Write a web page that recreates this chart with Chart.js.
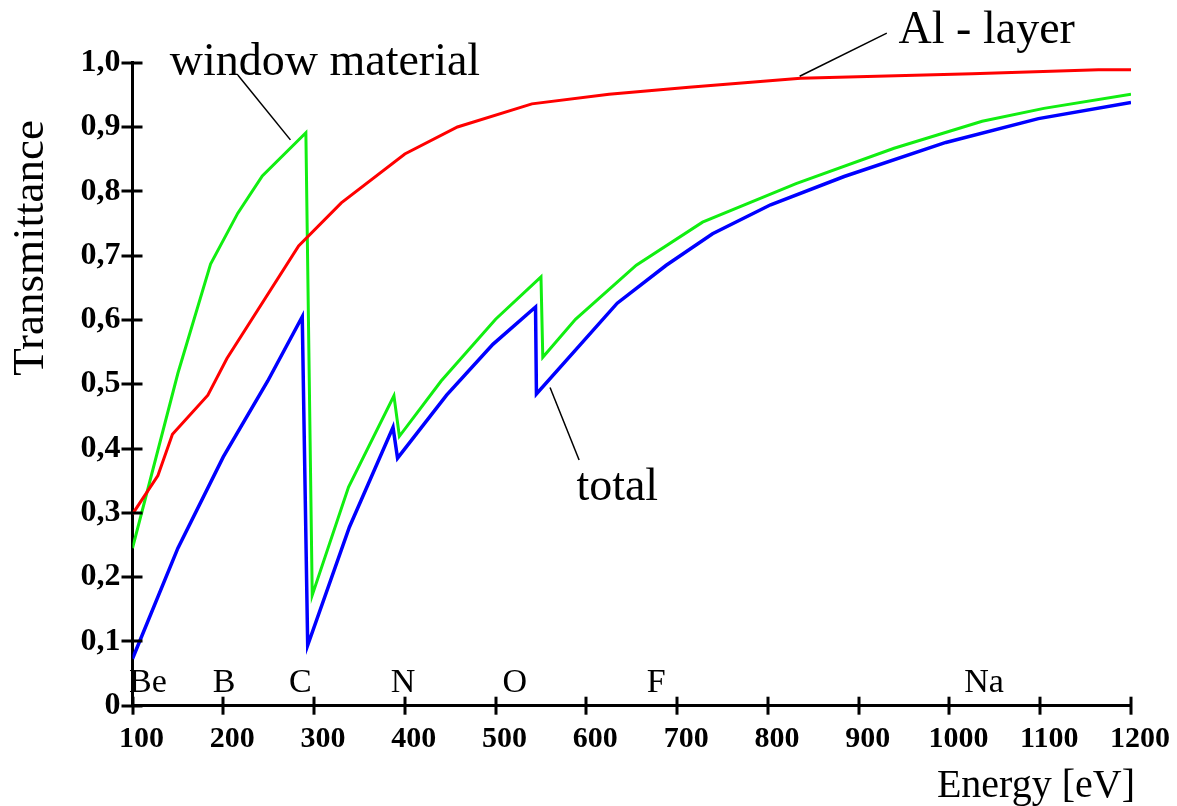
<!DOCTYPE html>
<html>
<head>
<meta charset="utf-8">
<script src="https://cdn.jsdelivr.net/npm/chart.js@4.4.1/dist/chart.umd.min.js"></script>
<style>
  html, body { margin: 0; padding: 0; background: #fff; }
  #wrap { width: 1177px; height: 806px; position: relative; }
</style>
</head>
<body>
<div id="wrap"><canvas id="chart" width="1177" height="806"></canvas></div>
<script>
/* ── Data ── */
const energyAl     = [100, 128, 144, 183, 204, 283, 330, 400, 458, 540, 625, 713, 836, 1025, 1164, 1200];
const transAl      = [0.298, 0.358, 0.422, 0.483, 0.540, 0.715, 0.782, 0.858, 0.900, 0.936, 0.951, 0.962, 0.976, 0.983, 0.989, 0.989];

const energyWindow = [100, 150, 186, 216, 243, 291, 298, 338, 388, 394, 440, 500, 550, 552, 588, 655, 728, 831, 939, 1036, 1104, 1200];
const transWindow  = [0.245, 0.517, 0.687, 0.766, 0.824, 0.891, 0.172, 0.340, 0.482, 0.419, 0.505, 0.601, 0.667, 0.542, 0.601, 0.685, 0.752, 0.812, 0.867, 0.909, 0.929, 0.951];

const energyTotal  = [100, 150, 200, 249, 287, 293, 339, 387, 392, 446, 497, 544, 545, 634, 688, 739, 803, 884, 996, 1098, 1200];
const transTotal   = [0.073, 0.245, 0.387, 0.505, 0.605, 0.094, 0.278, 0.433, 0.385, 0.483, 0.562, 0.620, 0.485, 0.626, 0.685, 0.734, 0.779, 0.823, 0.876, 0.913, 0.938];

/* tick labels */
const xTickValues = [100, 200, 300, 400, 500, 600, 700, 800, 900, 1000, 1100, 1200];
const xTickLabels = ["100", "200", "300", "400", "500", "600", "700", "800", "900", "1000", "1100", "1200"];
const yTickValues = [0, 0.1, 0.2, 0.3, 0.4, 0.5, 0.6, 0.7, 0.8, 0.9, 1.0];
const yTickLabels = ["0", "0,1", "0,2", "0,3", "0,4", "0,5", "0,6", "0,7", "0,8", "0,9", "1,0"];

/* absorption edge labels along the bottom */
const edgeNames  = ["Be", "B", "C", "N", "O", "F", "Na"];
const edgeEnergy = [117, 201, 285, 398, 521, 677, 1038];
const edgeTrans  = 0.022;

/* curve captions + leader lines [E0, T0, E1, T1] */
const captionText   = ["window material", "Al - layer", "total"];
const captionEnergy = [141, 944, 589];
const captionTrans  = [0.981, 1.030, 0.320];
const leaderLines   = [
  [216, 0.981, 274, 0.880],
  [835, 0.979, 931, 1.046],
  [560, 0.495, 592, 0.382],
];

const SERIF = "'Liberation Serif', 'Times New Roman', serif";
const INK   = "#000";

const pts = (xs, ys) => xs.map((x, i) => ({ x, y: ys[i] }));

/* ── crossing ticks, titles, captions ── */
const decor = {
  id: "decor",
  afterDraw(chart) {
    const { ctx, chartArea: a, scales: { x, y } } = chart;
    ctx.save();
    ctx.strokeStyle = INK;
    ctx.lineWidth = 3;
    yTickValues.forEach(v => {
      const py = Math.round(y.getPixelForValue(v));
      ctx.beginPath(); ctx.moveTo(a.left - 11, py); ctx.lineTo(a.left + 10, py); ctx.stroke();
    });
    xTickValues.forEach(v => {
      const px = Math.round(x.getPixelForValue(v));
      ctx.beginPath(); ctx.moveTo(px, a.bottom - 9); ctx.lineTo(px, a.bottom + 9); ctx.stroke();
    });

    /* leader lines */
    ctx.lineWidth = 1.5;
    leaderLines.forEach(l => {
      ctx.beginPath();
      ctx.moveTo(x.getPixelForValue(l[0]), y.getPixelForValue(l[1]));
      ctx.lineTo(x.getPixelForValue(l[2]), y.getPixelForValue(l[3]));
      ctx.stroke();
    });

    ctx.fillStyle = INK;
    ctx.textBaseline = "alphabetic";
    ctx.textAlign = "left";
    ctx.font = "46px " + SERIF;
    captionText.forEach((t, i) => {
      ctx.fillText(t, x.getPixelForValue(captionEnergy[i]), y.getPixelForValue(captionTrans[i]));
    });

    ctx.textAlign = "center";
    ctx.font = "34px " + SERIF;
    edgeNames.forEach((t, i) => {
      ctx.fillText(t, x.getPixelForValue(edgeEnergy[i]), y.getPixelForValue(edgeTrans));
    });

    /* axis titles */
    ctx.font = "40px " + SERIF;
    ctx.textAlign = "right";
    ctx.fillText("Energy [eV]", a.right + 4, 797);
    ctx.save();
    ctx.font = "45px " + SERIF;
    ctx.translate(43, a.top + (a.bottom - a.top) * 0.288);
    ctx.rotate(-Math.PI / 2);
    ctx.textAlign = "center";
    ctx.fillText("Transmittance", 0, 0);
    ctx.restore();
    ctx.restore();
  },
};

const line = (label, xs, ys, color, w) => ({
  label, data: pts(xs, ys), borderColor: color, backgroundColor: color,
  borderWidth: w, pointRadius: 0, tension: 0, fill: false,
});

new Chart(document.getElementById("chart").getContext("2d"), {
  type: "line",
  data: {
    datasets: [
      line("Al - layer",      energyAl,     transAl,     "#ff0000", 3),
      line("window material", energyWindow, transWindow, "#11ee11", 3),
      line("total",           energyTotal,  transTotal,  "#0000ff", 3.5),
    ],
  },
  options: {
    responsive: false, animation: false,
    layout: { padding: { top: 62.7, right: 44.5, left: 0, bottom: 0 } },
    plugins: { legend: { display: false }, tooltip: { enabled: false } },
    scales: {
      x: {
        type: "linear", min: 100, max: 1200,
        afterBuildTicks: s => { s.ticks = xTickValues.map(v => ({ value: v })); },
        afterFit: s => { s.height = 100.3; },
        grid: { display: false, drawTicks: false },
        border: { display: true, color: INK, width: 3 },
        ticks: { color: INK, padding: 16, maxRotation: 0, autoSkip: false, labelOffset: 9,
                 font: { family: SERIF, size: 30, weight: "bold" },
                 callback: (v, i) => xTickLabels[i] },
      },
      y: {
        min: 0, max: 1.0,
        afterBuildTicks: s => { s.ticks = yTickValues.map(v => ({ value: v })); },
        afterFit: s => { s.width = 132.5; },
        grid: { display: false, drawTicks: false },
        border: { display: true, color: INK, width: 3 },
        ticks: { color: INK, padding: 12, autoSkip: false,
                 font: { family: SERIF, size: 32, weight: "bold" },
                 callback: (v, i) => yTickLabels[i] },
      },
    },
  },
  plugins: [decor],
});
</script>
</body>
</html>
